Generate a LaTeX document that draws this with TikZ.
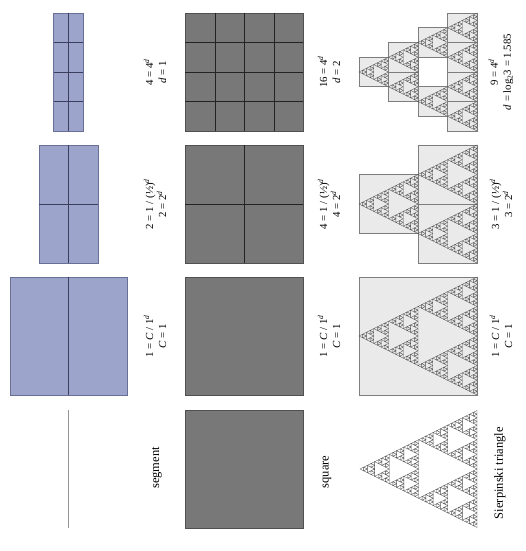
\documentclass[tikz,border=0pt]{standalone}
\usepackage{fontspec}
\setmainfont{Liberation Serif}
\definecolor{segblue}{RGB}{157,164,204}
\definecolor{segedge}{RGB}{105,112,150}
\definecolor{segdark}{RGB}{60,62,95}
\definecolor{seggray}{RGB}{150,150,150}
\definecolor{sqgray}{RGB}{120,120,120}
\definecolor{sqedge}{RGB}{80,80,80}
\definecolor{sqdark}{RGB}{35,35,35}
\definecolor{sfill}{RGB}{234,234,234}
\definecolor{sedge}{RGB}{125,125,125}
\definecolor{sline}{RGB}{85,85,85}
\newcommand\sierpT[4]{%
  \ifnum#1=0\relax
    \draw[stri] (#2,#3) -- (#2+#4,#3-#4/2) -- (#2+#4,#3+#4/2) -- cycle;
  \else
    \begingroup
      \pgfmathtruncatemacro\sdA{#1-1}%
      \pgfmathsetmacro\ssA{#4/2}%
      \pgfmathsetmacro\sxA{#2+#4/2}%
      \pgfmathsetmacro\syA{#3-#4/4}%
      \pgfmathsetmacro\syB{#3+#4/4}%
      \edef\sierpnext{%
        \noexpand\sierpT{\sdA}{#2}{#3}{\ssA}%
        \noexpand\sierpT{\sdA}{\sxA}{\syA}{\ssA}%
        \noexpand\sierpT{\sdA}{\sxA}{\syB}{\ssA}}%
      \sierpnext
    \endgroup
  \fi}
\newcommand\sierpBox[5]{%
  \ifnum#1=0\relax
    \draw[sbox] (#3,#4-#5/2) rectangle (#3+#5,#4+#5/2);
    \sierpT{#2}{#3}{#4}{#5}%
  \else
    \begingroup
      \pgfmathtruncatemacro\sbL{#1-1}%
      \pgfmathsetmacro\sbS{#5/2}%
      \pgfmathsetmacro\sbX{#3+#5/2}%
      \pgfmathsetmacro\sbYa{#4-#5/4}%
      \pgfmathsetmacro\sbYb{#4+#5/4}%
      \edef\sierpbnext{%
        \noexpand\sierpBox{\sbL}{#2}{#3}{#4}{\sbS}%
        \noexpand\sierpBox{\sbL}{#2}{\sbX}{\sbYa}{\sbS}%
        \noexpand\sierpBox{\sbL}{#2}{\sbX}{\sbYb}{\sbS}}%
      \sierpbnext
    \endgroup
  \fi}
\newcommand\supd{\textsuperscript{\textit{d}}}
\begin{document}
\begin{tikzpicture}[x=1pt,y=-1pt,
  segbox/.style={fill=segblue,draw=segedge,line width=0.6pt},
  segline/.style={draw=segdark,line width=0.5pt},
  segthin/.style={draw=seggray,line width=0.6pt},
  sqbox/.style={fill=sqgray,draw=sqedge,line width=0.6pt},
  sqline/.style={draw=sqdark,line width=0.6pt},
  sbox/.style={fill=sfill,draw=sedge,line width=0.6pt},
  stri/.style={draw=sline,line width=0.4pt},
  lbl/.style={rotate=90,align=center,font=\fontsize{10.8}{13}\selectfont,inner sep=0pt},
  shapename/.style={rotate=90,font=\fontsize{12.5}{14}\selectfont,inner sep=0pt}]
\useasboundingbox (0,0) rectangle (525,551);
% segment column
\draw[segthin] (68.5,410) -- (68.5,528);
\draw[segbox] (10,277) rectangle (127,395);
\draw[segline] (68.5,277) -- (68.5,395);
\draw[segbox] (39,145) rectangle (98,263);
\draw[segline] (68.5,145) -- (68.5,263) (39,204) -- (98,204);
\draw[segbox] (53.75,13) rectangle (83.25,131);
\draw[segline] (68.5,13) -- (68.5,131);
\foreach \yy in {42.5,72,101.5} \draw[segline] (53.75,\yy) -- (83.25,\yy);
% square column
\draw[sqbox] (185,410) rectangle (303,528);
\draw[sqbox] (185,277) rectangle (303,395);
\draw[sqbox] (185,145) rectangle (303,263);
\draw[sqline] (244,145) -- (244,263) (185,204) -- (303,204);
\draw[sqbox] (185,13) rectangle (303,131);
\foreach \vv in {42.5,72,101.5} {
  \draw[sqline] (185,\vv) -- (303,\vv);
  \draw[sqline] (\vv+172.5,13) -- (\vv+172.5,131);
}
% Sierpinski column
\sierpT{5}{360}{469}{117}
\sierpBox{0}{5}{359}{336}{118}
\sierpBox{1}{4}{359}{204}{118}
\sierpBox{2}{3}{359}{72}{118}
% labels
\node[shapename] (nseg) at (157,468) {segment};
\node[shapename] (nsq) at (327,472) {square};
\node[shapename] (nsi) at (500,473) {Sierpinski triangle};
\node[lbl] (seg1) at (155,336) {1 = \textit{C} / 1\supd\\\textit{C} = 1};
\node[lbl] (seg2) at (155,204) {2 = 1 / (½)\supd\\2 = 2\supd};
\node[lbl] (seg4) at (155,72) {4 = 4\supd\\\textit{d} = 1};
\node[lbl] (sq1) at (329,336) {1 = \textit{C} / 1\supd\\\textit{C} = 1};
\node[lbl] (sq2) at (329,204) {4 = 1 / (½)\supd\\4 = 2\supd};
\node[lbl] (sq4) at (329,72) {16 = 4\supd\\\textit{d} = 2};
\node[lbl] (si1) at (501,336) {1 = \textit{C} / 1\supd\\\textit{C} = 1};
\node[lbl] (si2) at (501,204) {3 = 1 / (½)\supd\\3 = 2\supd};
\node[lbl] (si4) at (501,72) {9 = 4\supd\\\textit{d} = log\textsubscript{2}3 = 1.585};
\end{tikzpicture}
\end{document}
